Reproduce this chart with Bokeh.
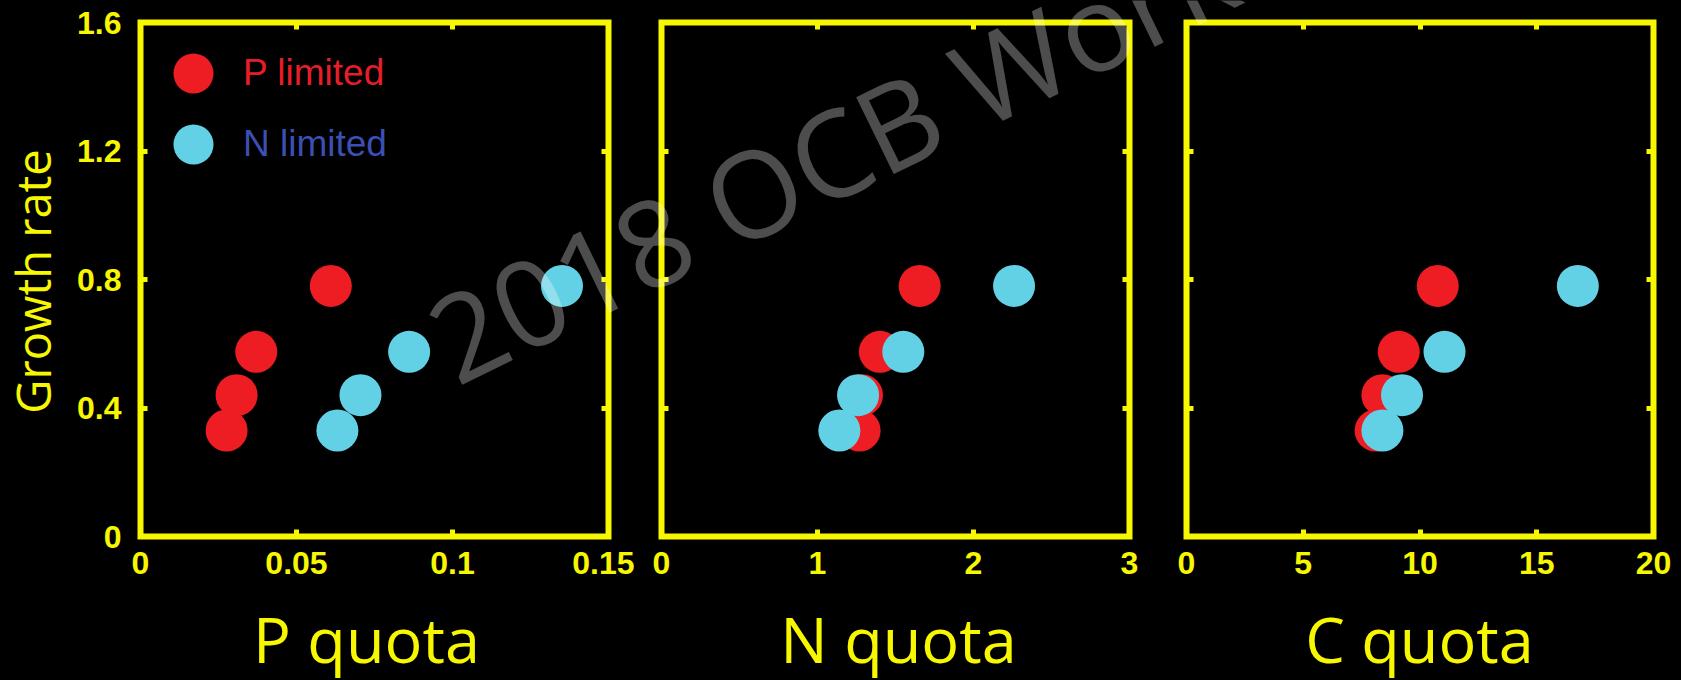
from math import pi

from bokeh.plotting import figure
from bokeh.models import (Range1d, FixedTicker, LinearAxis, CustomJSTickFormatter,
                          Label, Legend, LegendItem)
from bokeh.layouts import row, column
from bokeh.embed import file_html
from bokeh.resources import INLINE

# Growth rate shared by every panel (same cultures, four dilution rates)
growth = [0.33, 0.44, 0.575, 0.78]

# Cell quotas for P-limited and N-limited cultures
p_quota_p_limited = [0.0276, 0.0308, 0.0371, 0.0610]
p_quota_n_limited = [0.0631, 0.0705, 0.0861, 0.1351]
n_quota_p_limited = [1.27, 1.285, 1.40, 1.655]
n_quota_n_limited = [1.14, 1.26, 1.55, 2.26]
c_quota_p_limited = [8.10, 8.39, 9.09, 10.76]
c_quota_n_limited = [8.39, 9.23, 11.05, 16.76]

series_names = ["P limited", "N limited"]
quota_titles = ["P quota", "N quota", "C quota"]
growth_title = "Growth rate"
watermark = "2018 OCB Workshop"

growth_ticks = [0, 0.4, 0.8, 1.2, 1.6]
growth_tick_labels = ["0", "0.4", "0.8", "1.2", "1.6"]
p_ticks = [0, 0.05, 0.1, 0.15]
p_tick_labels = ["0", "0.05", "0.1", "0.15"]
n_ticks = [0, 1, 2, 3]
n_tick_labels = ["0", "1", "2", "3"]
c_ticks = [0, 5, 10, 15, 20]
c_tick_labels = ["0", "5", "10", "15", "20"]

YELLOW = "#f7f700"
RED = "#ee1d23"
CYAN = "#63d1e5"
RED_TEXT = "#e61e28"
BLUE_TEXT = "#3c50b4"

W, H = 1681, 680
FRAME_TOP = 22
FRAME_BOTTOM = 536


def labelled(ticks, labels):
    return CustomJSTickFormatter(
        args=dict(vals=ticks, labs=labels),
        code="const i = vals.indexOf(tick); return i >= 0 ? labs[i] : '';")


def blank():
    return CustomJSTickFormatter(code="return '';")


def style_axis(ax):
    ax.axis_line_color = None
    ax.major_tick_in = 7
    ax.major_tick_out = 0
    ax.major_tick_line_color = YELLOW
    ax.major_tick_line_width = 5
    ax.minor_tick_line_color = None
    ax.major_label_text_color = YELLOW
    ax.major_label_text_font = "Liberation Sans"
    ax.major_label_text_font_style = "bold"
    ax.major_label_text_font_size = "32px"


def make_panel(width, left, right, x_end, x_ticks, x_labels, xs_p, xs_n, show_y):
    p = figure(width=width, height=H,
               x_range=Range1d(0, x_end), y_range=Range1d(0, 1.6),
               output_backend="svg", toolbar_location=None,
               min_border_left=left, min_border_right=right,
               min_border_top=FRAME_TOP, min_border_bottom=H - FRAME_BOTTOM)
    p.background_fill_color = "black"
    p.border_fill_color = "black"
    p.outline_line_color = YELLOW
    p.outline_line_width = 6
    p.outline_line_join = "miter"
    p.grid.visible = False

    xa = p.xaxis[0]
    xa.ticker = FixedTicker(ticks=x_ticks)
    xa.formatter = labelled(x_ticks, x_labels)
    style_axis(xa)
    xa.major_label_standoff = 15

    ya = p.yaxis[0]
    ya.ticker = FixedTicker(ticks=growth_ticks)
    style_axis(ya)
    ya.major_label_standoff = 19
    ya.formatter = labelled(growth_ticks, growth_tick_labels) if show_y else blank()

    # mirrored inward ticks on top and right
    top = LinearAxis(ticker=FixedTicker(ticks=x_ticks), formatter=blank())
    style_axis(top)
    p.add_layout(top, "above")
    rgt = LinearAxis(ticker=FixedTicker(ticks=growth_ticks), formatter=blank())
    style_axis(rgt)
    p.add_layout(rgt, "right")

    r_p = p.scatter(xs_p, growth, size=42, fill_color=RED, line_color=None)
    r_n = p.scatter(xs_n, growth, size=42, fill_color=CYAN, line_color=None)
    return p, r_p, r_n


p1, r1p, r1n = make_panel(634, 140, 26, 0.15, p_ticks, p_tick_labels,
                          p_quota_p_limited, p_quota_n_limited, True)
p2, _, _ = make_panel(523, 27, 28, 3, n_ticks, n_tick_labels,
                      n_quota_p_limited, n_quota_n_limited, False)
p3, _, _ = make_panel(524, 29, 28, 20, c_ticks, c_tick_labels,
                      c_quota_p_limited, c_quota_n_limited, False)

# one legend per series so each key can sit at its own row spacing
for rend, name, colour, y in ((r1p, series_names[0], RED_TEXT, 413),
                              (r1n, series_names[1], BLUE_TEXT, 342)):
    leg = Legend(items=[LegendItem(label=name, renderers=[rend])],
                 location=(3, y), glyph_width=100, glyph_height=100,
                 label_standoff=0, padding=0, margin=0,
                 border_line_color=None, background_fill_alpha=0,
                 label_text_font="Liberation Sans", label_text_font_size="37px",
                 label_text_color=colour)
    p1.add_layout(leg)

# transparent sheet over the three panels for the shared titles and watermark
sheet = figure(width=W, height=H, x_range=Range1d(0, W), y_range=Range1d(H, 0),
               x_axis_location=None, y_axis_location=None,
               output_backend="svg", toolbar_location=None, min_border=0)
sheet.background_fill_alpha = 0
sheet.border_fill_alpha = 0
sheet.outline_line_color = None
sheet.grid.visible = False
sheet.styles = {"position": "absolute", "left": "0px", "top": "0px",
                "pointer-events": "none"}

sheet.add_layout(Label(x=32, y=281, text=growth_title, angle=pi / 2,
                       text_font="Open Sans", text_font_size="47px",
                       text_color=YELLOW, text_align="center",
                       text_baseline="alphabetic"))
for title, cx in zip(quota_titles, (366, 898, 1419)):
    sheet.add_layout(Label(x=cx, y=638, text=title,
                           text_font="Open Sans", text_font_size="63px",
                           text_color=YELLOW, text_align="center",
                           text_baseline="alphabetic"))
sheet.add_layout(Label(x=436, y=345, text=watermark, angle=0.454,
                       text_font="Open Sans", text_font_size="120px",
                       text_color="white", text_alpha=0.3,
                       text_align="left", text_baseline="alphabetic"))

layout = column(row(p1, p2, p3), sheet,
                styles={"background-color": "black", "position": "relative"})
open("out.html", "w").write(file_html(layout, INLINE))
